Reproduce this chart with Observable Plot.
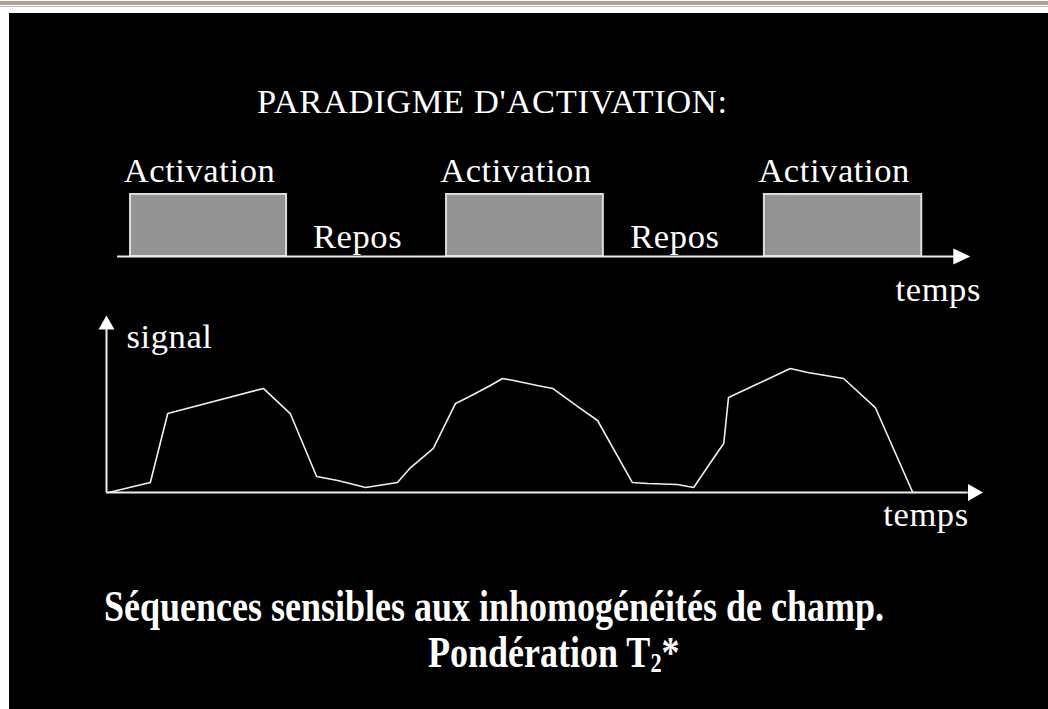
<!DOCTYPE html>
<html>
<head>
<meta charset="utf-8">
<script src="https://cdn.jsdelivr.net/npm/d3@7"></script>
<script src="https://cdn.jsdelivr.net/npm/@observablehq/plot@0.6"></script>
<style>
  html, body { margin: 0; padding: 0; background: #ffffff; }
  #page { position: relative; width: 1048px; height: 709px; overflow: hidden; background: #ffffff; }
  .band1 { position: absolute; left: 0; top: 1px; width: 1048px; height: 4px; background: #a8a392; }
  .band2 { position: absolute; left: 0; top: 6px; width: 1048px; height: 1px; background: #b9b4a2; }
  .panel { position: absolute; left: 9px; top: 13px; width: 1039px; height: 696px; background: #000000; }
  .title { position: absolute; left: 257px; top: 84px; font: 34.5px/1 "Liberation Serif", "Times New Roman", serif; letter-spacing: 0.65px; color: #ffffff; white-space: nowrap; }
  .cap { position: absolute; font: bold 45px/1 "Liberation Serif", "Times New Roman", serif; color: #ffffff; white-space: nowrap; transform: scaleX(0.8); transform-origin: 0 0; }
  .cap sub { font-size: 0.62em; vertical-align: -0.18em; line-height: 0; }
  .plot { position: absolute; left: 0; }
  .plot svg { overflow: visible; }
  .plot text { letter-spacing: 0.6px; }
</style>
</head>
<body>
<div id="page">
  <div class="band1"></div>
  <div class="band2"></div>
  <div class="panel"></div>
  <div class="title" id="title"></div>
  <div class="plot" id="top" style="top:140px"></div>
  <div class="plot" id="bottom" style="top:300px"></div>
  <div class="cap" id="cap1" style="left:104px; top:584px"></div>
  <div class="cap" id="cap2" style="left:428px; top:630px"></div>
</div>
<script>
// ---- Data ----
const titleText = "PARADIGME D'ACTIVATION:";
const phaseLabels = ["Activation", "Repos", "Activation", "Repos", "Activation"];
const phaseStart = [4.55, 34.1, 64.4, 94.1, 124.6];
const phaseEnd   = [34.1, 64.4, 94.1, 124.6, 154.4];
const timeLabel = "temps";
const signalLabel = "signal";

// signal curve (time in s, signal in arbitrary units)
const signalTime = [0.4, 8.3, 11.6, 29.7, 34.8, 39.8, 43.8, 49.1, 55.1, 57.6, 61.9, 66.1, 68.4, 72.7, 75.0, 77.1, 81.6, 84.5, 89.2, 93.0, 99.6, 102.5, 108.1, 111.2, 115.7, 116.9, 117.8, 129.5, 132.8, 139.6, 145.6, 152.7];
const signalValue = [0, 8.3, 65.8, 86.7, 65.8, 13.3, 10, 4.2, 8.3, 20.8, 36.7, 74.2, 79.2, 89.2, 95, 93.3, 89.2, 86.7, 71.7, 60, 8.3, 7.5, 6.7, 4.2, 33.3, 40.8, 79.2, 103.3, 100, 95, 70.8, 0];

const caption1 = "Séquences sensibles aux inhomogénéités de champ.";
const caption2Main = "Pondération T";
const caption2Sub = "2";
const caption2End = "*";

// ---- Build tables ----
const phases = phaseLabels.map((label, i) => ({label, start: phaseStart[i], end: phaseEnd[i]}));
const activations = phases.filter(d => d.label === "Activation");
const signal = signalTime.map((t, i) => ({t, v: signalValue[i]}));

// ---- Styling / helpers ----
const FONT = '"Liberation Serif", "Times New Roman", serif';
const WHITE = "#ffffff";
const AXIS = "#eeeeee";

function arrowSymbol(length, half, dir) {
  return {
    draw(ctx) {
      if (dir === "right") {
        ctx.moveTo(0, 0); ctx.lineTo(-length, -half); ctx.lineTo(-length, half); ctx.closePath();
      } else {
        ctx.moveTo(0, 0); ctx.lineTo(-half, length); ctx.lineTo(half, length); ctx.closePath();
      }
    }
  };
}

const xDomain = [0, 166];
const common = {
  width: 1048,
  marginLeft: 106,
  marginRight: 65.5,
  style: {background: "transparent", overflow: "visible", color: WHITE}
};

// ---- Top plot: activation paradigm ----
const topPlot = Plot.plot({
  ...common,
  height: 180,
  marginTop: 54,
  marginBottom: 64,
  x: {domain: xDomain, axis: null},
  y: {domain: [0, 1], axis: null},
  marks: [
    Plot.rect(activations, {x1: "start", x2: "end", y1: 0, y2: 1, fill: "#939393", stroke: "#dcdcdc", strokeWidth: 2}),
    Plot.ruleY([0], {x1: 2.1, x2: 160.6, stroke: AXIS, strokeWidth: 2}),
    Plot.dot([0], {x: 163.6, y: 0, symbol: arrowSymbol(17, 8, "right"), fill: WHITE, stroke: "none"}),
    Plot.text(activations, {x: d => (d.start + d.end) / 2, y: 1, dx: -9, dy: -13, text: "label", lineAnchor: "bottom", fill: WHITE, fontSize: 34.5, fontFamily: FONT}),
    Plot.text(phases.filter(d => d.label === "Repos"), {x: d => (d.start + d.end) / 2, y: 0, dx: -9, dy: -9, text: "label", lineAnchor: "bottom", fill: WHITE, fontSize: 34.5, fontFamily: FONT}),
    Plot.text([timeLabel], {x: 166, y: 0, dx: -2, dy: 44, text: d => d, textAnchor: "end", lineAnchor: "bottom", fill: WHITE, fontSize: 34.5, fontFamily: FONT})
  ]
});
document.getElementById("top").appendChild(topPlot);

// ---- Bottom plot: signal ----
const bottomPlot = Plot.plot({
  ...common,
  height: 240,
  marginTop: 12,
  marginBottom: 48,
  x: {domain: xDomain, axis: null},
  y: {domain: [0, 150], axis: null},
  marks: [
    Plot.ruleY([0], {x1: 0, x2: 163.2, stroke: AXIS, strokeWidth: 2}),
    Plot.dot([0], {x: 166, y: 0, symbol: arrowSymbol(15, 8.5, "right"), fill: WHITE, stroke: "none"}),
    Plot.ruleX([0], {y1: 0, y2: 137, stroke: AXIS, strokeWidth: 2}),
    Plot.dot([0], {x: 0, y: 147.5, symbol: arrowSymbol(14, 8, "up"), fill: WHITE, stroke: "none"}),
    Plot.line(signal, {x: "t", y: "v", stroke: "#f0f0f0", strokeWidth: 1.6, strokeLinejoin: "miter"}),
    Plot.text([signalLabel], {x: 0, y: 120.8, dx: 20, text: d => d, textAnchor: "start", lineAnchor: "bottom", fill: WHITE, fontSize: 34.5, fontFamily: FONT}),
    Plot.text([timeLabel], {x: 163.3, y: 0, dy: 33, text: d => d, textAnchor: "end", lineAnchor: "bottom", fill: WHITE, fontSize: 34.5, fontFamily: FONT})
  ]
});
document.getElementById("bottom").appendChild(bottomPlot);

// ---- HTML texts ----
document.getElementById("title").textContent = titleText;
document.getElementById("cap1").textContent = caption1;
const cap2 = document.getElementById("cap2");
cap2.appendChild(document.createTextNode(caption2Main));
const sub = document.createElement("sub");
sub.textContent = caption2Sub;
cap2.appendChild(sub);
cap2.appendChild(document.createTextNode(caption2End));
</script>
</body>
</html>
